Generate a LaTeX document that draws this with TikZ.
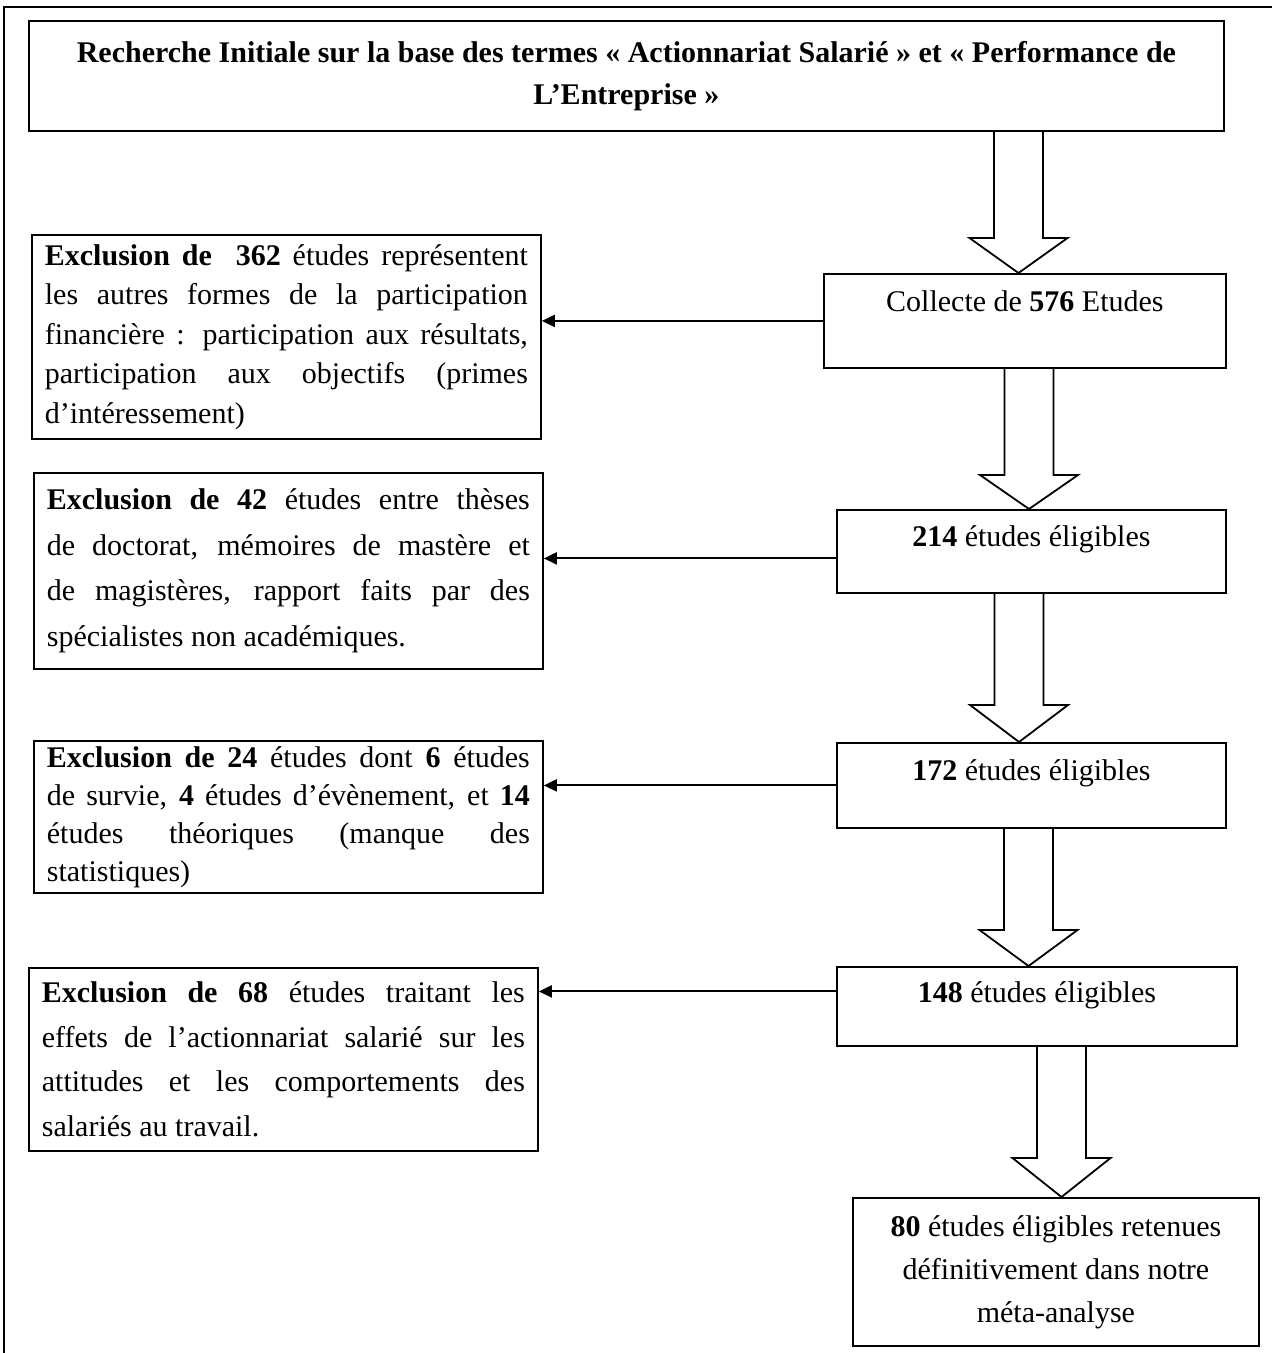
\documentclass[tikz,border=0pt]{standalone}
\usepackage{fontspec}
\setmainfont{Liberation Serif}
\usetikzlibrary{arrows.meta,calc}

\tolerance=10000
\hbadness=10000

% grosse fleche blanche entre deux cadres : x, source, cible, demi-largeur du fut, longueur de la tete
\newcommand{\flechebloc}[5]{%
  \draw[bloc] let \p0=(#1,0), \p1=(#2.south), \p2=(#3.north) in
    (\x0-#4,\y1) -- (\x0-#4,\y2+#5) -- (\x0-2*#4,\y2+#5) -- (\x0,\y2)
    -- (\x0+2*#4,\y2+#5) -- (\x0+#4,\y2+#5) -- (\x0+#4,\y1);}

\tikzset{
  cadre/.style={draw, line width=1.8pt, anchor=north west, inner sep=0pt,
    font=\fontsize{30}{42}\selectfont},
  exclusion/.style={cadre, text width=483pt, align=justify, inner xsep=13pt},
  etape/.style={cadre, align=center},
  fleche/.style={line width=2pt, -{Triangle[length=13pt,width=12pt]}},
  bloc/.style={line width=1.8pt, line join=miter},
}

\begin{document}
\begin{tikzpicture}[x=1pt, y=-1pt]
  \useasboundingbox (0,0) rectangle (1272,1353);
  % cadre general
  \draw[line width=2pt] (4,1353) -- (4,7) -- (1272,7);

  % colonne de droite
  \node[etape, font=\fontsize{30}{42}\selectfont\bfseries,
    minimum width=1195pt, minimum height=110pt] (recherche) at (28,20)
    {Recherche Initiale sur la base des termes « Actionnariat Salarié » et « Performance de\\
     L’Entreprise »};
  \node[etape, minimum width=402pt, text height=38pt, text depth=56pt] (collecte) at (823,273)
    {Collecte de \textbf{576} Etudes};
  \node[etape, minimum width=389pt, text height=37pt, text depth=46pt] (e214) at (836,509)
    {\textbf{214} études éligibles};
  \node[etape, minimum width=389pt, text height=38pt, text depth=47pt] (e172) at (836,742)
    {\textbf{172} études éligibles};
  \node[etape, minimum width=400pt, text height=36pt, text depth=43pt] (e148) at (836,966)
    {\textbf{148} études éligibles};
  \node[etape, font=\fontsize{30}{43}\selectfont,
    minimum width=406pt, minimum height=148pt] (retenues) at (852,1197)
    {\textbf{80} études éligibles retenues\\
     définitivement dans notre\\
     méta-analyse};

  % colonne de gauche
  \node[exclusion, font=\fontsize{30}{39.5}\selectfont, minimum height=204pt] (excl1) at (31,234)
    {\textbf{Exclusion de\ \ 362} études représentent\linebreak
     les autres formes de la participation\linebreak
     financière : participation aux résultats,\linebreak
     participation aux objectifs (primes\linebreak
     d’intéressement)};
  \node[exclusion, font=\fontsize{30}{45.5}\selectfont, minimum height=196pt] (excl2) at (33,472)
    {\textbf{Exclusion de 42} études entre thèses\linebreak
     de doctorat, mémoires de mastère et\linebreak
     de magistères, rapport faits par des\linebreak
     spécialistes non académiques.};
  \node[exclusion, font=\fontsize{30}{38}\selectfont, minimum height=152pt] (excl3) at (33,740)
    {\textbf{Exclusion de 24} études dont \textbf{6} études\linebreak
     de survie, \textbf{4} études d’évènement, et \textbf{14}\linebreak
     études théoriques (manque des\linebreak
     statistiques)};
  \node[exclusion, font=\fontsize{30}{44.5}\selectfont, minimum height=183pt] (excl4) at (28,967)
    {\textbf{Exclusion de 68} études traitant les\linebreak
     effets de l’actionnariat salarié sur les\linebreak
     attitudes et les comportements des\linebreak
     salariés au travail.};

  % grosses fleches
  \flechebloc{1018.5}{recherche}{collecte}{24.5pt}{35pt}
  \flechebloc{1029}{collecte}{e214}{24.5pt}{34pt}
  \flechebloc{1019}{e214}{e172}{24.5pt}{37pt}
  \flechebloc{1028.5}{e172}{e148}{24.5pt}{36pt}
  \flechebloc{1061.5}{e148}{retenues}{24.5pt}{39pt}

  % exclusions
  \draw[fleche] (collecte.west) -- (collecte.west -| excl1.east);
  \draw[fleche] ([yshift=-7pt]e214.west) -- ([yshift=-7pt]e214.west -| excl2.east);
  \draw[fleche] (e172.west) -- (e172.west -| excl3.east);
  \draw[fleche] ([yshift=15pt]e148.west) -- ([yshift=15pt]e148.west -| excl4.east);
\end{tikzpicture}
\end{document}
